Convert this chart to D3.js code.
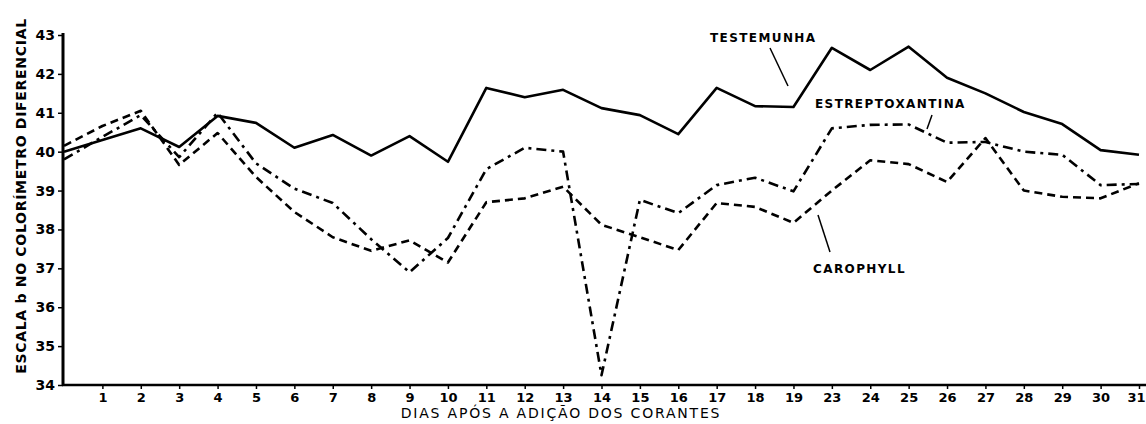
<!DOCTYPE html>
<html>
<head>
<meta charset="utf-8">
<script src="https://cdn.jsdelivr.net/npm/d3@7"></script>
<style>
  body { margin: 0; background: #fff; }
  text { font-family: "DejaVu Sans", sans-serif; font-weight: bold; fill: #000; }
</style>
</head>
<body>
<script>
// days after adding the dyes (0 = start, unlabelled)
var days = [0, 1, 2, 3, 4, 5, 6, 7, 8, 9, 10, 11, 12, 13, 14, 15, 16, 17, 18, 19,
            23, 24, 25, 26, 27, 28, 29, 30, 31];
var yTicks = [34, 35, 36, 37, 38, 39, 40, 41, 42, 43];

var testemunha = [40.0, 40.3, 40.6, 40.12, 40.92, 40.74, 40.1, 40.43, 39.9, 40.4,
                  39.74, 41.64, 41.4, 41.59, 41.12, 40.94, 40.45, 41.64, 41.17, 41.15,
                  42.67, 42.1, 42.7, 41.9, 41.5, 41.02, 40.71, 40.04, 39.92];
var estreptoxantina = [39.8, 40.38, 40.94, 39.86, 41.0, 39.7, 39.05, 38.68, 37.75, 36.9,
                       37.78, 39.55, 40.1, 40.0, 34.25, 38.76, 38.42, 39.14, 39.33, 38.98,
                       40.6, 40.69, 40.7, 40.23, 40.25, 40.0, 39.92, 39.14, 39.17];
var carophyll = [40.15, 40.66, 41.05, 39.66, 40.48, 39.35, 38.45, 37.8, 37.45, 37.72,
                 37.15, 38.7, 38.8, 39.1, 38.12, 37.8, 37.47, 38.68, 38.58, 38.17,
                 39.0, 39.78, 39.68, 39.22, 40.35, 39.0, 38.84, 38.8, 39.19];

var width = 1146, height = 424;
var margin = { top: 35, left: 64, right: 7, bottom: 39 };

var svg = d3.select("body").append("svg")
    .attr("width", width)
    .attr("height", height);

var x = d3.scalePoint()
    .domain(days)
    .range([margin.left, width - margin.right]);
var y = d3.scaleLinear()
    .domain([34, 43])
    .range([height - margin.bottom, margin.top]);

// y axis
var yAxis = d3.axisLeft(y).tickValues(yTicks).tickSize(5).tickPadding(3).tickFormat(d3.format("d"));
var gy = svg.append("g")
    .attr("transform", "translate(" + (margin.left - 1) + ",0)")
    .call(yAxis);
gy.select(".domain").remove();
gy.selectAll(".tick line").attr("stroke", "#000").attr("stroke-width", 1.5);
gy.selectAll(".tick text").style("font-size", "14px").style("font-family", "DejaVu Sans").style("font-weight", "bold");
svg.append("line")
    .attr("x1", margin.left - 1).attr("x2", margin.left - 1)
    .attr("y1", y(43) - 2).attr("y2", y(34) + 1)
    .attr("stroke", "#000").attr("stroke-width", 3);

// x axis
var xAxis = d3.axisBottom(x).tickValues(days.slice(1)).tickSize(4).tickPadding(4);
var gx = svg.append("g")
    .attr("transform", "translate(0," + y(34) + ")")
    .call(xAxis);
gx.select(".domain").remove();
gx.selectAll(".tick line").attr("stroke", "#000").attr("stroke-width", 1.5);
gx.selectAll(".tick text").style("font-size", "13px").style("font-family", "DejaVu Sans").style("font-weight", "bold");
// last label sits against the right edge
gx.selectAll(".tick text").filter(function (d) { return d === 31; })
    .attr("text-anchor", "end").attr("x", 6);
svg.append("line")
    .attr("x1", margin.left - 2).attr("x2", width)
    .attr("y1", y(34)).attr("y2", y(34))
    .attr("stroke", "#000").attr("stroke-width", 2.5);

// axis titles
svg.append("text")
    .attr("transform", "translate(26,196) rotate(-90)")
    .attr("text-anchor", "middle")
    .style("font-size", "14px")
    .style("letter-spacing", "0.7px")
    .text("ESCALA b NO COLORÍMETRO DIFERENCIAL");

svg.append("text")
    .attr("x", 561).attr("y", 418)
    .attr("text-anchor", "middle")
    .style("font-size", "14px")
    .style("font-weight", "normal")
    .style("letter-spacing", "1.8px")
    .text("DIAS APÓS A ADIÇÃO DOS CORANTES");

// series
var series = [
  { name: "TESTEMUNHA", values: testemunha, dash: null },
  { name: "ESTREPTOXANTINA", values: estreptoxantina, dash: "10,5,3,5" },
  { name: "CAROPHYLL", values: carophyll, dash: "8,5" }
];

var line = d3.line()
    .x(function (d, i) { return x(days[i]); })
    .y(function (d) { return y(d); });

svg.selectAll(".series")
    .data(series)
    .enter().append("path")
    .attr("class", "series")
    .attr("d", function (d) { return line(d.values); })
    .attr("fill", "none")
    .attr("stroke", "#000")
    .attr("stroke-width", 2.6)
    .attr("stroke-linejoin", "round")
    .attr("stroke-dasharray", function (d) { return d.dash; });

// labels with pointers
var notes = [
  { text: "TESTEMUNHA", tx: 710, ty: 42, x1: 770, y1: 48, x2: 788, y2: 86 },
  { text: "ESTREPTOXANTINA", tx: 815, ty: 108, x1: 932, y1: 115, x2: 927, y2: 129 },
  { text: "CAROPHYLL", tx: 813, ty: 273, x1: 830, y1: 252, x2: 818, y2: 215 }
];

svg.selectAll(".note")
    .data(notes)
    .enter().append("text")
    .attr("class", "note")
    .attr("x", function (d) { return d.tx; })
    .attr("y", function (d) { return d.ty; })
    .style("font-size", "12px")
    .style("letter-spacing", "1.4px")
    .text(function (d) { return d.text; });

svg.selectAll(".pointer")
    .data(notes)
    .enter().append("line")
    .attr("class", "pointer")
    .attr("x1", function (d) { return d.x1; })
    .attr("y1", function (d) { return d.y1; })
    .attr("x2", function (d) { return d.x2; })
    .attr("y2", function (d) { return d.y2; })
    .attr("stroke", "#000")
    .attr("stroke-width", 1.5);
</script>
</body>
</html>
